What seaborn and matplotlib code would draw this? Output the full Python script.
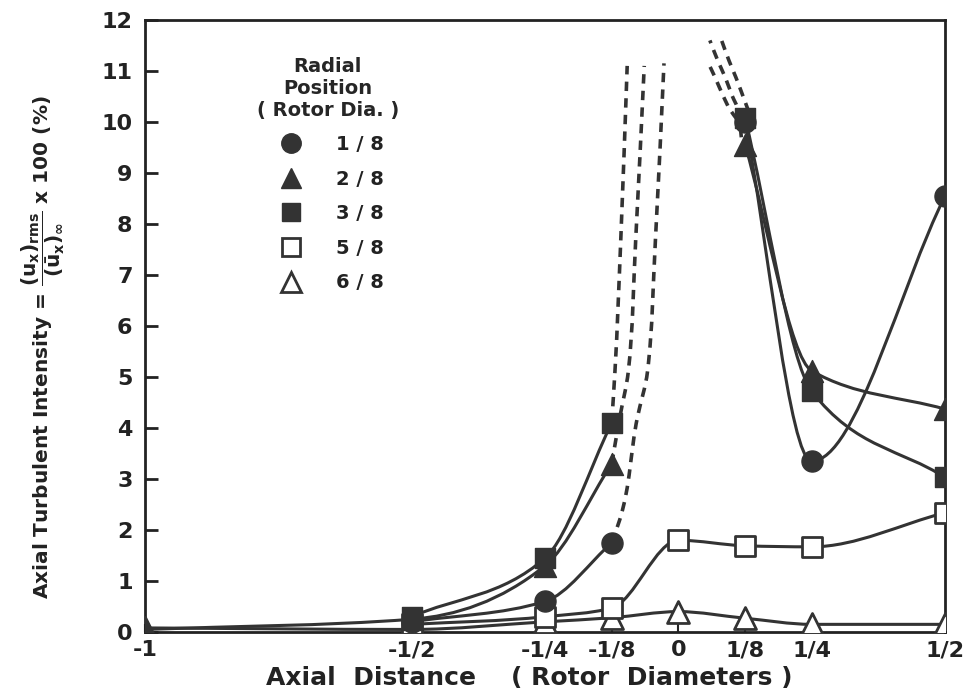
import numpy as np
import matplotlib
matplotlib.use("Agg")
import matplotlib.pyplot as plt
from matplotlib.path import Path
from matplotlib.patches import PathPatch
from matplotlib.lines import Line2D
import seaborn as sns

# ---------------- data ----------------
x_ticks = [-1, -0.5, -0.25, -0.125, 0, 0.125, 0.25, 0.5]
x_tick_labels = ['-1', '-1/2', '-1/4', '-1/8', '0', '1/8', '1/4', '1/2']
y_ticks = list(range(0, 13))

series_labels = ['1 / 8', '2 / 8', '3 / 8', '5 / 8', '6 / 8']

# 1/8 filled circle
c18_left_x = [-0.5, -0.25, -0.125]
c18_left_y = [0.2, 0.6, 1.75]
c18_right_x = [0.125, 0.25, 0.5]
c18_right_y = [10.0, 3.35, 8.55]
# 2/8 filled triangle
t28_left_x = [-1.0, -0.5, -0.25, -0.125]
t28_left_y = [0.05, 0.25, 1.3, 3.3]
t28_right_x = [0.125, 0.25, 0.5]
t28_right_y = [9.55, 5.12, 4.37]
# 3/8 filled square
s38_left_x = [-0.5, -0.25, -0.125]
s38_left_y = [0.3, 1.45, 4.1]
s38_right_x = [0.125, 0.25, 0.5]
s38_right_y = [10.08, 4.72, 3.03]
# 5/8 open square
s58_x = [-0.5, -0.25, -0.125, 0.0, 0.125, 0.25, 0.5]
s58_y = [0.15, 0.3, 0.47, 1.8, 1.69, 1.67, 2.34]
# 6/8 open triangle
t68_x = [-1.0, -0.5, -0.25, -0.125, 0.0, 0.125, 0.25, 0.5]
t68_y = [0.08, 0.05, 0.2, 0.28, 0.4, 0.27, 0.15, 0.15]

# dashed (extrapolated) branches
c18_dash_left_x = [-0.125, -0.110, -0.077, -0.058, -0.043, -0.027]
c18_dash_left_y = [1.75, 2.2, 4.2, 5.1, 7.7, 11.15]
t28_dash_left_x = [-0.125, -0.110, -0.094, -0.080, -0.064]
t28_dash_left_y = [3.3, 4.2, 5.1, 7.7, 11.1]
s38_dash_left_x = [-0.125, -0.119, -0.108, -0.096]
s38_dash_left_y = [4.1, 5.1, 7.7, 11.1]
c18_dash_right_x = [0.110, 0.097, 0.084, 0.069, 0.054]
c18_dash_right_y = [10.05, 10.24, 10.51, 10.87, 11.2]
t28_dash_right_x = [0.118, 0.112, 0.101, 0.088, 0.074, 0.059]
t28_dash_right_y = [9.7, 10.24, 10.51, 10.87, 11.2, 11.6]
s38_dash_right_x = [0.132, 0.121, 0.108, 0.095, 0.081]
s38_dash_right_y = [10.2, 10.51, 10.87, 11.2, 11.6]

# ---------------- style ----------------
sns.set_theme(style="white")
plt.rcParams['font.family'] = ['DejaVu Sans']
plt.rcParams['font.weight'] = 'bold'
plt.rcParams['mathtext.fontset'] = 'dejavusans'
plt.rcParams['mathtext.default'] = 'bf'

INK = '#333333'

fig = plt.figure(figsize=(9.74, 6.92), dpi=100)
ax = fig.add_axes([0.1489, 0.0867, 0.8214, 0.8844])
ax.set_xlim(-1, 0.5)
ax.set_ylim(0, 12)


def _tangents(t, s):
    """Steffen monotone tangents."""
    h = np.diff(t)
    d = np.diff(s) / h
    n = len(t)
    m = np.zeros(n)
    m[0] = d[0]
    m[-1] = d[-1]
    for k in range(1, n - 1):
        p = (d[k - 1] * h[k] + d[k] * h[k - 1]) / (h[k - 1] + h[k])
        m[k] = (np.sign(d[k - 1]) + np.sign(d[k])) * min(abs(d[k - 1]), abs(d[k]), 0.5 * abs(p))
    return h, m


def smooth_curve(ax, xs, ys, along_y=False, **kw):
    """Draw a smooth monotone cubic (Bezier) curve through the given data points."""
    x = np.asarray(xs, float)
    y = np.asarray(ys, float)
    if along_y:
        order = np.argsort(y)
        t, s = y[order], x[order]
    else:
        t, s = x, y
    h, m = _tangents(t, s)
    pts = [(t[0], s[0])]
    codes = [Path.MOVETO]
    for k in range(len(t) - 1):
        hk = h[k] / 3.0
        pts += [(t[k] + hk, s[k] + m[k] * hk),
                (t[k + 1] - hk, s[k + 1] - m[k + 1] * hk),
                (t[k + 1], s[k + 1])]
        codes += [Path.CURVE4] * 3
    if along_y:
        verts = [(b, a) for a, b in pts]
    else:
        verts = pts
    patch = PathPatch(Path(verts, codes), fill=False, transform=ax.transData, **kw)
    ax.add_patch(patch)


solid = dict(edgecolor=INK, linewidth=2.2, zorder=2, capstyle='round', joinstyle='round')
dashed = dict(edgecolor=INK, linewidth=2.6, zorder=2, linestyle=(0, (2.6, 2.0)))

# solid curves
smooth_curve(ax, t68_x, t68_y, **solid)
smooth_curve(ax, s58_x, s58_y, **solid)
smooth_curve(ax, c18_left_x, c18_left_y, **solid)
smooth_curve(ax, t28_left_x, t28_left_y, **solid)
smooth_curve(ax, s38_left_x, s38_left_y, **solid)
smooth_curve(ax, c18_right_x, c18_right_y, **solid)
smooth_curve(ax, t28_right_x, t28_right_y, **solid)
smooth_curve(ax, s38_right_x, s38_right_y, **solid)

# dashed curves (parametrised along y, since they are near vertical)
smooth_curve(ax, c18_dash_left_x, c18_dash_left_y, along_y=True, **dashed)
smooth_curve(ax, t28_dash_left_x, t28_dash_left_y, along_y=True, **dashed)
smooth_curve(ax, s38_dash_left_x, s38_dash_left_y, along_y=True, **dashed)
smooth_curve(ax, c18_dash_right_x, c18_dash_right_y, along_y=True, **dashed)
smooth_curve(ax, t28_dash_right_x, t28_dash_right_y, along_y=True, **dashed)
smooth_curve(ax, s38_dash_right_x, s38_dash_right_y, along_y=True, **dashed)

# markers
mk = dict(ax=ax, zorder=3, legend=False)
sns.scatterplot(x=t68_x, y=t68_y, marker='^', s=250, color='white', edgecolor=INK, linewidth=2.0, **mk)
sns.scatterplot(x=s58_x, y=s58_y, marker='s', s=190, color='white', edgecolor=INK, linewidth=2.0, **mk)
sns.scatterplot(x=c18_left_x + c18_right_x, y=c18_left_y + c18_right_y, marker='o', s=230,
                color=INK, edgecolor=INK, linewidth=1, **mk)
sns.scatterplot(x=t28_left_x + t28_right_x, y=t28_left_y + t28_right_y, marker='^', s=250,
                color=INK, edgecolor=INK, linewidth=1, **mk)
sns.scatterplot(x=s38_left_x + s38_right_x, y=s38_left_y + s38_right_y, marker='s', s=190,
                color=INK, edgecolor=INK, linewidth=1, **mk)

# axes styling
for sp in ax.spines.values():
    sp.set_visible(True)
    sp.set_color('#222222')
    sp.set_linewidth(2.0)

ax.set_xticks(x_ticks)
ax.set_xticklabels(x_tick_labels)
ax.set_yticks(y_ticks)
ax.set_yticklabels([str(v) for v in y_ticks])
ax.tick_params(axis='y', direction='in', length=9, width=2, color='#222222', pad=9,
               labelsize=16, labelcolor='#222222', left=True, right=False)
ax.tick_params(axis='x', direction='in', length=6, width=1.5, color='#222222', pad=6,
               labelsize=16, labelcolor='#222222', bottom=True, top=False)
for lab in ax.get_xticklabels() + ax.get_yticklabels():
    lab.set_fontweight('bold')

ax.set_xlabel('Axial  Distance    ( Rotor  Diameters )', fontsize=18, fontweight='bold',
              color='#222222')
ax.xaxis.set_label_coords(0.48, -0.056)
ax.set_ylabel(r'Axial Turbulent Intensity = $\dfrac{(u_x)_{rms}}{(\bar{u}_x)_{\infty}}$ x 100 (%)',
              fontsize=14.5, fontweight='bold', color='#222222')
ax.yaxis.set_label_coords(-0.097, 0.465)

# legend
handles = [
    Line2D([], [], linestyle='none', marker='o', markersize=14, markerfacecolor=INK, markeredgecolor=INK),
    Line2D([], [], linestyle='none', marker='^', markersize=15, markerfacecolor=INK, markeredgecolor=INK),
    Line2D([], [], linestyle='none', marker='s', markersize=13, markerfacecolor=INK, markeredgecolor=INK),
    Line2D([], [], linestyle='none', marker='s', markersize=13, markerfacecolor='white',
           markeredgecolor=INK, markeredgewidth=2),
    Line2D([], [], linestyle='none', marker='^', markersize=15, markerfacecolor='white',
           markeredgecolor=INK, markeredgewidth=2),
]
leg = ax.legend(handles, series_labels, title='Radial\nPosition\n( Rotor Dia. )',
                loc='upper left', bbox_to_anchor=(0.13, 0.953), frameon=False,
                fontsize=14, title_fontsize=14, handletextpad=1.3, labelspacing=0.8,
                borderaxespad=0)
leg.get_title().set_multialignment('center')
leg.get_title().set_fontweight('bold')
for t in leg.get_texts():
    t.set_fontweight('bold')
    t.set_color('#222222')

fig.savefig('out.png', dpi=100, facecolor='white')
